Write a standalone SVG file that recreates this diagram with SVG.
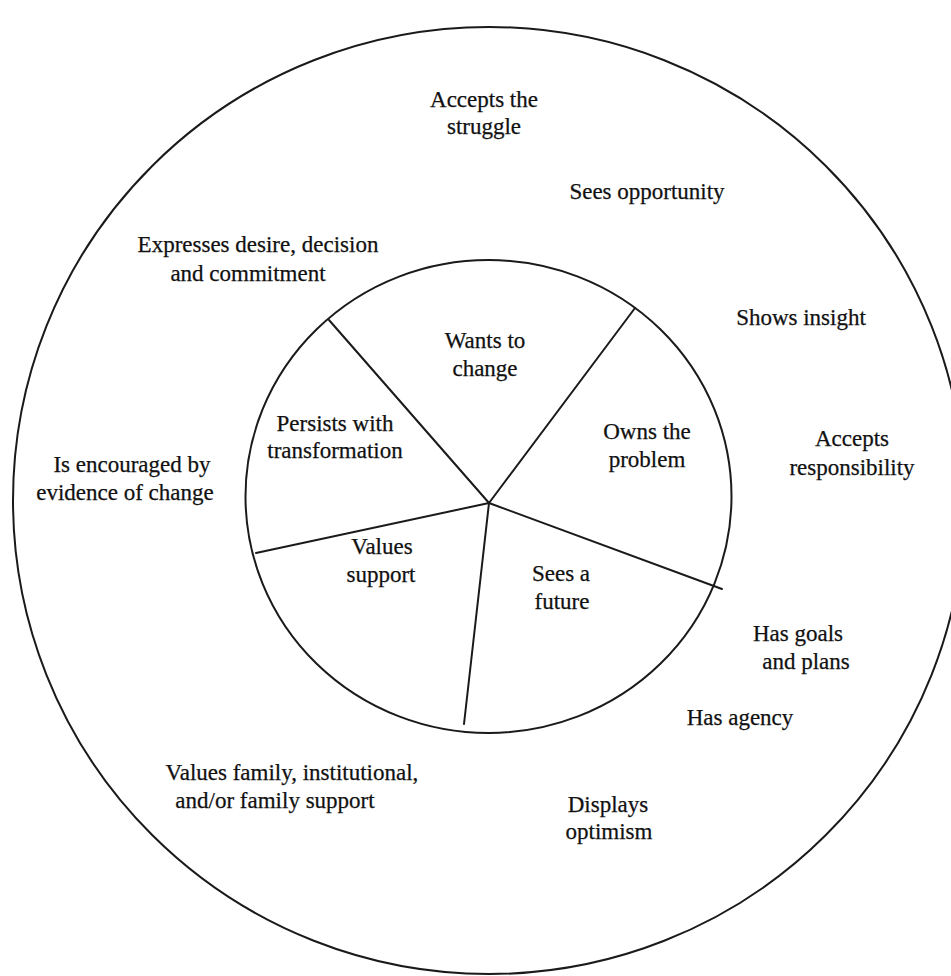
<svg xmlns="http://www.w3.org/2000/svg" width="951" height="976" viewBox="0 0 951 976">
  <style>
    .ring { fill: none; stroke: #1a1a1a; stroke-width: 2; }
    .spoke { stroke: #1a1a1a; stroke-width: 2; stroke-linecap: round; }
    text { font-family: "Liberation Serif", "Times New Roman", serif; font-size: 23px; fill: #111111; stroke: #111111; stroke-width: 0.25; text-anchor: middle; }
  </style>
  <rect width="951" height="976" fill="#ffffff"/>

  <!-- outer and inner rings -->
  <g id="rings">
    <ellipse id="outer-ring" class="ring" cx="489" cy="500.5" rx="476" ry="473.5"/>
    <ellipse id="inner-ring" class="ring" cx="488.5" cy="496.5" rx="243" ry="236.5"/>
  </g>

  <!-- spokes dividing the inner circle -->
  <g id="connectors">
    <line class="spoke" x1="489" y1="503" x2="329" y2="320"/>
    <line class="spoke" x1="489" y1="503" x2="635" y2="308"/>
    <line class="spoke" x1="489" y1="503" x2="722" y2="589"/>
    <line class="spoke" x1="489" y1="503" x2="464" y2="724"/>
    <line class="spoke" x1="489" y1="503" x2="256" y2="553"/>
  </g>

  <!-- inner segments -->
  <g id="wants-to-change">
    <text x="485" y="348">Wants to</text>
    <text x="485" y="376">change</text>
  </g>
  <g id="owns-the-problem">
    <text x="647" y="439">Owns the</text>
    <text x="647" y="467">problem</text>
  </g>
  <g id="sees-a-future">
    <text x="561" y="581">Sees a</text>
    <text x="562" y="609">future</text>
  </g>
  <g id="values-support">
    <text x="382" y="554">Values</text>
    <text x="381" y="582">support</text>
  </g>
  <g id="persists-with-transformation">
    <text x="335" y="431">Persists with</text>
    <text x="335" y="458">transformation</text>
  </g>

  <!-- outer ring labels -->
  <g id="accepts-the-struggle">
    <text x="484" y="107">Accepts the</text>
    <text x="484" y="134">struggle</text>
  </g>
  <g id="sees-opportunity">
    <text x="647" y="199">Sees opportunity</text>
  </g>
  <g id="expresses-desire">
    <text x="258" y="252">Expresses desire, decision</text>
    <text x="248" y="281">and commitment</text>
  </g>
  <g id="shows-insight">
    <text x="801" y="325">Shows insight</text>
  </g>
  <g id="accepts-responsibility">
    <text x="852" y="446">Accepts</text>
    <text x="852" y="475">responsibility</text>
  </g>
  <g id="is-encouraged">
    <text x="132" y="472">Is encouraged by</text>
    <text x="125" y="500">evidence of change</text>
  </g>
  <g id="has-goals">
    <text x="798" y="641">Has goals</text>
    <text x="806" y="669">and plans</text>
  </g>
  <g id="has-agency">
    <text x="740" y="725">Has agency</text>
  </g>
  <g id="values-family">
    <text x="292" y="780">Values family, institutional,</text>
    <text x="275" y="808">and/or family support</text>
  </g>
  <g id="displays-optimism">
    <text x="608" y="812">Displays</text>
    <text x="609" y="839">optimism</text>
  </g>
</svg>
